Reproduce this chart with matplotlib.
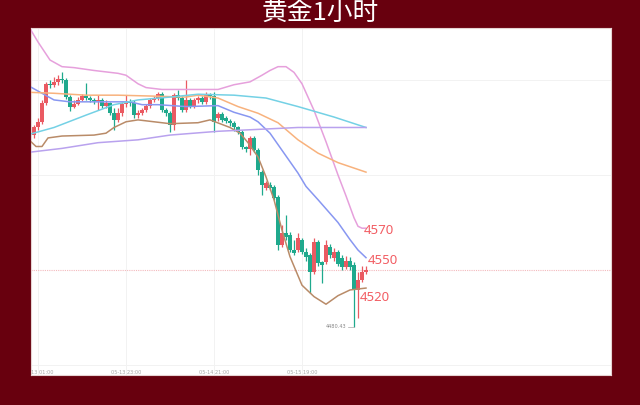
import matplotlib.pyplot as plt
import numpy as np

# candles, index 0 = 05-13 01:00, one per hour
idx = np.arange(-1, 83)
opens = [4682, 4690, 4696, 4716, 4736, 4735, 4738, 4741, 4740, 4722, 4712, 4715, 4719, 4723,
         4721, 4719, 4718, 4719, 4713, 4716, 4705, 4698, 4705, 4715, 4717, 4716, 4703, 4705,
         4708, 4713, 4719, 4721, 4725, 4708, 4705, 4693, 4724, 4721, 4708, 4719, 4712, 4719,
         4721, 4717, 4724, 4723, 4700, 4704, 4700, 4697, 4695, 4690, 4685, 4669, 4667, 4679,
         4666, 4643, 4626, 4629, 4627, 4617, 4566, 4579, 4577, 4561, 4561, 4572, 4559, 4556,
         4538, 4569, 4548, 4548, 4564, 4553, 4559, 4553, 4543, 4550, 4545, 4519, 4529, 4538]
closes = [4690, 4696, 4716, 4736, 4735, 4738, 4741, 4740, 4722, 4712, 4715, 4719, 4723, 4721,
          4719, 4718, 4719, 4713, 4716, 4705, 4698, 4705, 4715, 4717, 4716, 4703, 4705, 4708,
          4713, 4719, 4721, 4725, 4708, 4705, 4693, 4724, 4721, 4708, 4719, 4712, 4719, 4721,
          4717, 4724, 4723, 4696, 4704, 4698, 4697, 4695, 4690, 4685, 4669, 4667, 4679, 4666,
          4645, 4629, 4632, 4626, 4616, 4566, 4579, 4575, 4561, 4558, 4574, 4559, 4554, 4538,
          4569, 4547, 4545, 4566, 4556, 4559, 4546, 4543, 4550, 4543, 4519, 4529, 4538, 4540]
highs = [4693, 4700, 4719, 4738, 4740, 4743, 4745, 4748, 4742, 4724, 4719, 4722, 4725, 4737,
         4723, 4721, 4724, 4721, 4719, 4717, 4710, 4710, 4717, 4724, 4720, 4719, 4708, 4710,
         4715, 4721, 4723, 4727, 4727, 4710, 4707, 4726, 4729, 4723, 4740, 4721, 4721, 4723,
         4723, 4727, 4726, 4727, 4706, 4706, 4702, 4699, 4697, 4692, 4687, 4671, 4681, 4681,
         4668, 4645, 4634, 4633, 4629, 4619, 4587, 4598, 4580, 4572, 4579, 4574, 4563, 4558,
         4574, 4572, 4550, 4572, 4567, 4563, 4561, 4556, 4555, 4554, 4548, 4538, 4544, 4544]
lows = [4679, 4687, 4694, 4714, 4732, 4733, 4735, 4737, 4720, 4707, 4711, 4714, 4718, 4719,
        4717, 4715, 4708, 4711, 4711, 4703, 4687, 4696, 4702, 4712, 4713, 4700, 4700, 4703,
        4706, 4711, 4717, 4719, 4706, 4702, 4685, 4687, 4719, 4706, 4706, 4710, 4710, 4716,
        4715, 4715, 4720, 4685, 4697, 4696, 4695, 4692, 4686, 4683, 4667, 4664, 4661, 4664,
        4640, 4619, 4624, 4624, 4614, 4561, 4564, 4572, 4559, 4556, 4559, 4557, 4550, 4516,
        4536, 4544, 4526, 4546, 4553, 4550, 4544, 4540, 4541, 4540, 4480.43, 4490, 4527, 4536]

# bollinger upper / middle / lower
boll_up_x = [-2, 0, 3, 6, 9, 14, 20, 22, 25, 27, 31, 37, 45, 49, 53, 56, 58, 60, 62, 64, 66,
             69, 72, 75, 77, 79, 80, 81, 82]
boll_up_y = [4794, 4780, 4761, 4754, 4753, 4750, 4747, 4745, 4736, 4732, 4730, 4730, 4730,
             4735, 4738, 4745, 4750, 4754, 4754, 4748, 4736, 4708, 4675, 4640, 4618, 4595,
             4586, 4584, 4584]
boll_mid_x = [-2, 1, 4, 8, 16, 23, 26, 30, 37, 45, 49, 53, 55, 58, 61, 65, 67, 70, 75, 78, 80, 82]
boll_mid_y = [4733, 4726, 4719, 4717, 4717, 4717, 4714, 4714, 4712, 4713, 4706, 4701, 4696,
              4684, 4666, 4642, 4628, 4614, 4590, 4572, 4561, 4553]
boll_dn_x = [-2, -0.5, 1, 2.5, 6, 14, 17, 19, 22, 25, 33, 40, 43, 45.5, 48, 50.5, 52.5, 55,
             57, 59, 61, 63, 66, 69, 72, 75, 78, 82]
boll_dn_y = [4676, 4670, 4670, 4679, 4681, 4682, 4684, 4690, 4696, 4698, 4694, 4695, 4698,
             4694, 4690, 4684, 4674, 4659, 4638, 4614, 4582, 4554, 4524, 4512, 4504, 4513,
             4519, 4521]
# longer moving averages
ma_orange_x = [-2, 4, 12, 20, 29, 37, 40, 45, 50, 55, 60, 65, 70, 75, 82]
ma_orange_y = [4727, 4726, 4724, 4724, 4723, 4722, 4724, 4721, 4712, 4705, 4695, 4677, 4663,
               4653, 4643]
ma_cyan_x = [-2, 4, 12, 19, 25, 33, 40, 49, 57, 65, 74, 82]
ma_cyan_y = [4683, 4690, 4703, 4714, 4719, 4722, 4725, 4724, 4721, 4712, 4701, 4690]
ma_purple_x = [-2, 6, 15, 25, 33, 45, 50, 65, 82]
ma_purple_y = [4664, 4668, 4674, 4677, 4682, 4686, 4687, 4690, 4690]

time_pos = [0, 22, 44, 66]
time_labels = ['05-13 01:00', '05-13 23:00', '05-14 21:00', '05-15 19:00']
last_price = 4540
low_price = 4480.43
level_labels = ['4570', '4550', '4520']
level_x = [81.5, 82.5, 80.5]
level_y = [4582, 4550.5, 4511]

bg = '#68000e'
up_col = '#ea5a62'
dn_col = '#1fa98d'

fig = plt.figure(figsize=(6.4, 4.05), dpi=100, facecolor=bg)
ax = fig.add_axes([31 / 640, 30 / 405, 580 / 640, 347 / 405])
ax.set_facecolor('white')
ax.set_xlim(-1.75, 143.25)
ax.set_ylim(4429.5, 4794.7)
ax.set_xticks([])
ax.set_yticks([])
for s in ax.spines.values():
    s.set_color('#e6d2d2')
    s.set_linewidth(0.8)

for g in [4440, 4640, 4740]:
    ax.axhline(g, color='#f2f2f2', lw=0.7, zorder=0)
for t in time_pos:
    ax.axvline(t, color='#f2f2f2', lw=0.7, zorder=0)
ax.axhline(last_price, color='#f3b9bd', lw=0.8, ls=(0, (1, 1)), zorder=1)

o = np.array(opens)
c = np.array(closes)
cols = np.where(c >= o, up_col, dn_col)
ax.vlines(idx, lows, highs, colors=cols, lw=0.9, zorder=2)
body = np.maximum(np.abs(c - o), 1.2)
ax.bar(idx, body, bottom=np.minimum(o, c), width=0.85, color=cols, lw=0, zorder=2)

lw = 1.1
ax.plot(boll_up_x, boll_up_y, color='#e6a0dc', lw=lw, zorder=3)
ax.plot(boll_mid_x, boll_mid_y, color='#8897f1', lw=lw, zorder=3)
ax.plot(boll_dn_x, boll_dn_y, color='#b98b68', lw=lw, zorder=3)
ax.plot(ma_orange_x, ma_orange_y, color='#f8b27d', lw=lw, zorder=3)
ax.plot(ma_cyan_x, ma_cyan_y, color='#74d1e5', lw=lw, zorder=3)
ax.plot(ma_purple_x, ma_purple_y, color='#b9a2ee', lw=lw, zorder=3)

for lab, x, y in zip(level_labels, level_x, level_y):
    ax.text(x, y, lab, color='#f25d63', fontsize=9.5, family='Noto Sans',
            ha='left', va='center', zorder=5)

ax.plot([77.4, 79], [low_price, low_price], color='#aaaaaa', lw=0.5, zorder=4)
ax.text(77.2, low_price, f'{low_price:.2f}', color='#888888', fontsize=3.6,
        ha='right', va='center', zorder=5)

for t, lab in zip(time_pos, time_labels):
    ax.text(t, 4432.5, lab, color='#a8a8a8', fontsize=3.6, ha='center', va='center',
            clip_on=True)

fig.text(0.5, 1 - 14 / 405, '黄金1小时', color='white', fontsize=18.5,
         family=['Noto Sans CJK SC', 'DejaVu Sans'], ha='center', va='center')

fig.savefig('out.png', dpi=100, facecolor=bg)
